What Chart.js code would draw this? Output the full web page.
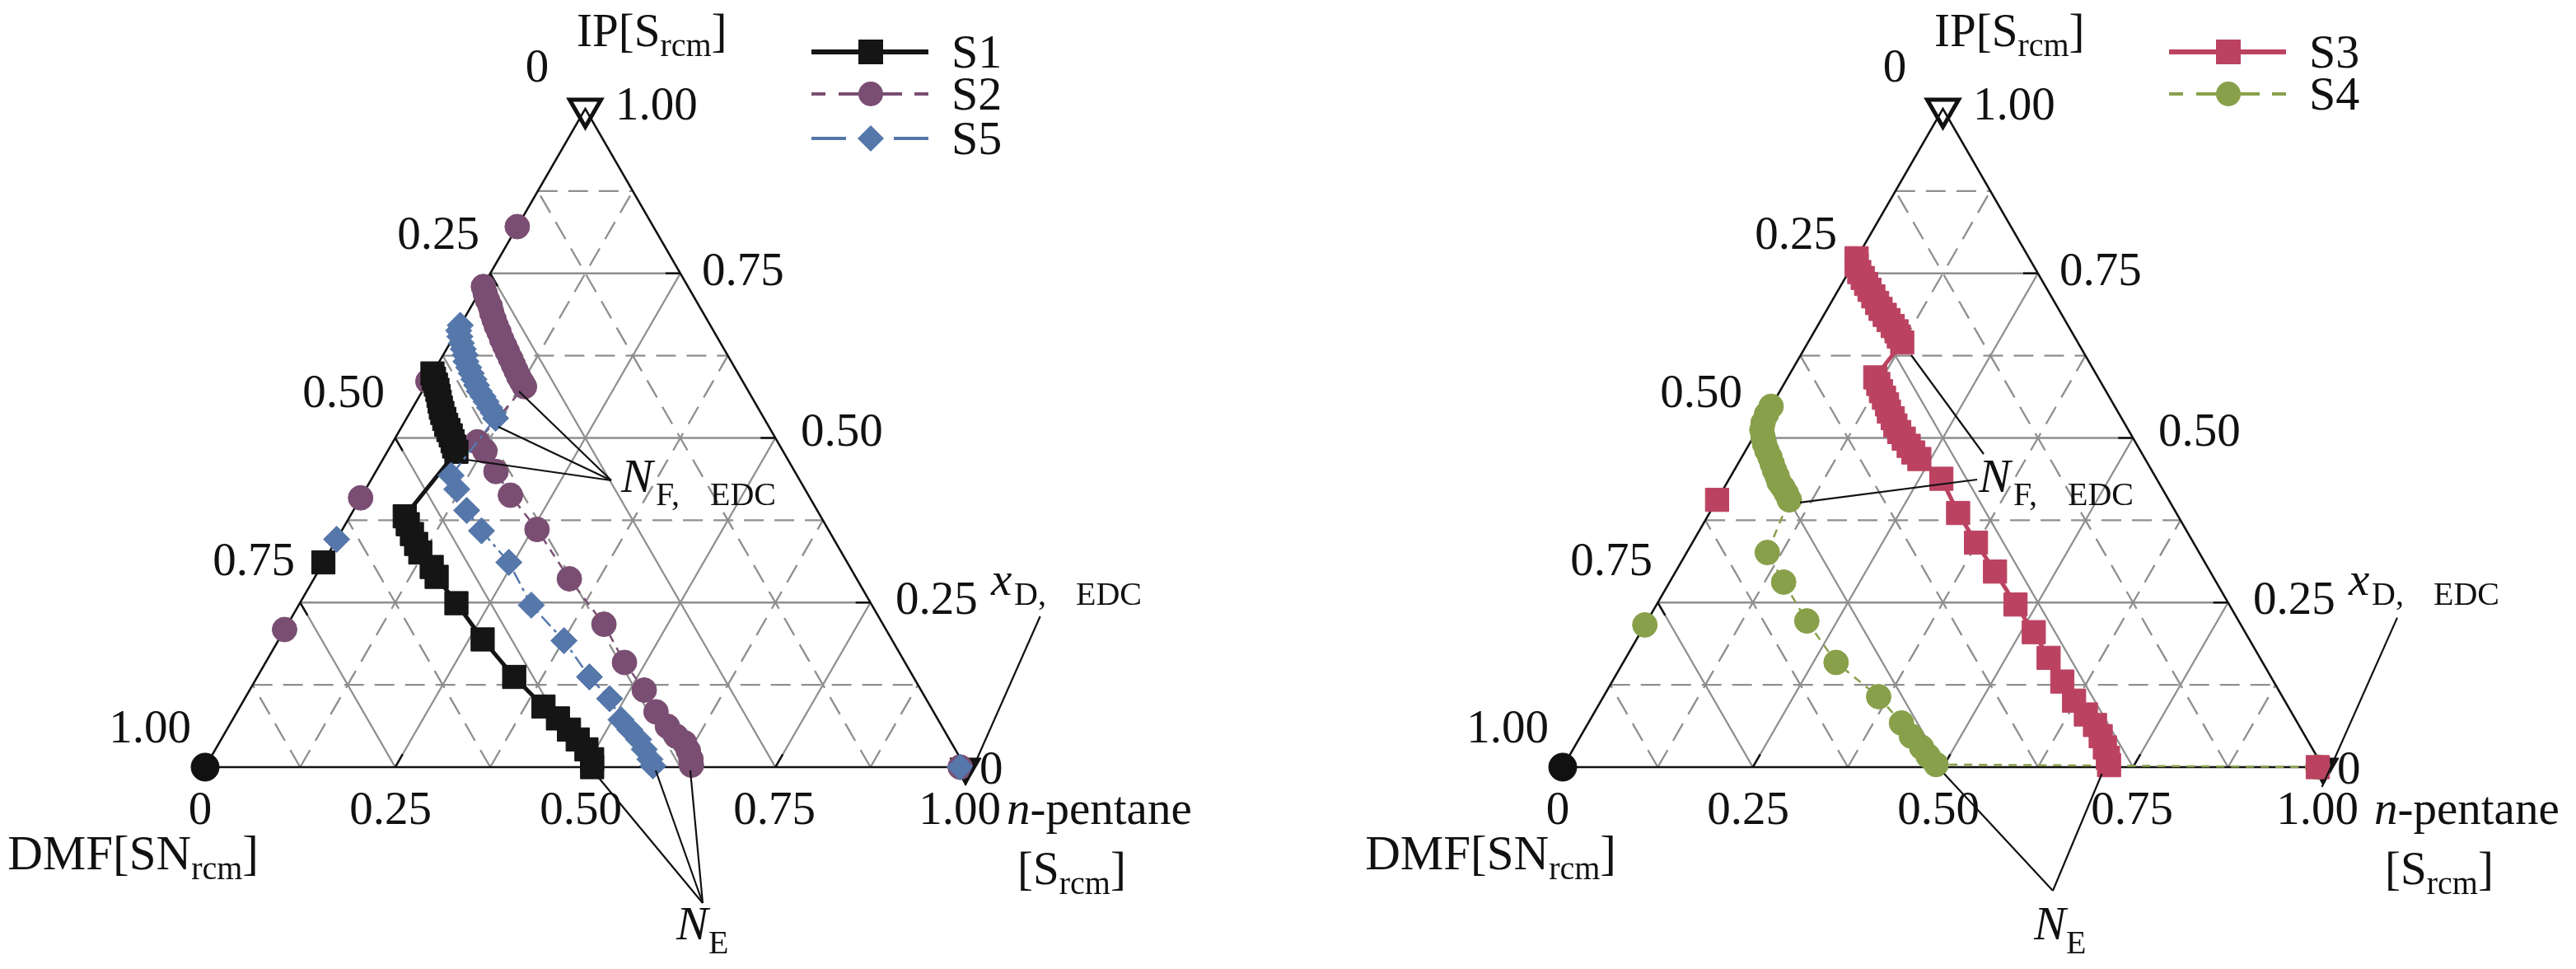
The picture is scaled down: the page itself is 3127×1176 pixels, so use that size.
<!DOCTYPE html>
<html><head><meta charset="utf-8">
<script src="https://cdn.jsdelivr.net/npm/chart.js@4.4.0/dist/chart.umd.min.js"></script>
<style>
html,body{margin:0;padding:0;background:#fff;width:3127px;height:1176px;overflow:hidden;}
#wrap{position:relative;width:3127px;height:1176px;}
canvas{position:absolute;top:0;}
#c1{left:0;} #c2{left:1560px;}
svg{position:absolute;left:0;top:0;}
svg text{font-family:"Liberation Serif","Times New Roman",serif;fill:#111;}
</style></head><body>
<div id="wrap">
<canvas id="c1" width="1560" height="1176"></canvas>
<canvas id="c2" width="1567" height="1176"></canvas>
<svg id="ov" width="3127" height="1176" xmlns="http://www.w3.org/2000/svg"></svg>
</div>
<script>
// ===== DATA (mole fractions: n-pentane, IP; DMF = 1 - pentane - IP) =====
const tickLabels = ['0', '0.25', '0.50', '0.75', '1.00'];
const seriesNamesLeft = ['S1', 'S2', 'S5'];
const seriesNamesRight = ['S3', 'S4'];

// S1 (left)
const s1Pentane = [0.000,0.006,0.013,0.019,0.025,0.031,0.037,0.043,0.050,0.057,0.064,0.071,0.078,0.084,0.091,
  0.072,0.082,0.095,0.108,0.120,0.146,0.160,0.206,0.268,0.338,0.399,0.427,0.450,0.469,0.488,0.503,0.509];
const s1IP = [0.598,0.590,0.581,0.573,0.564,0.555,0.546,0.538,0.529,0.520,0.512,0.504,0.495,0.487,0.479,
  0.381,0.369,0.354,0.339,0.326,0.304,0.289,0.249,0.194,0.137,0.092,0.074,0.057,0.042,0.027,0.012,0.000];
const s1PointPentane = [0.000];
const s1PointIP = [0.311];

// S2 (left)
const s2Pentane = [0.001,0.009,0.017,0.025,0.032,0.040,0.048,0.056,0.065,0.074,0.082,0.091,0.100,0.108,0.116,0.124,0.131,
  0.111,0.128,0.158,0.195,0.256,0.336,0.416,0.472,0.519,0.551,0.577,0.596,0.612,0.623,0.633,0.638];
const s2IP = [0.730,0.719,0.709,0.700,0.690,0.680,0.670,0.661,0.650,0.640,0.631,0.621,0.611,0.602,0.593,0.585,0.578,
  0.494,0.480,0.449,0.413,0.361,0.286,0.217,0.159,0.117,0.084,0.062,0.047,0.037,0.025,0.012,0.003];
const s2PointPentane = [0.000,0.000,0.000,0.000,0.993];
const s2PointIP = [0.821,0.586,0.409,0.209,0.000];

// S5 (left)
const s5Pentane = [0.000,0.002,0.008,0.015,0.022,0.029,0.035,0.043,0.051,0.059,0.067,0.075,0.084,0.092,0.101,0.110,0.117,
  0.102,0.120,0.149,0.184,0.244,0.306,0.376,0.437,0.480,0.511,0.530,0.549,0.564,0.579,0.588];
const s5IP = [0.671,0.663,0.654,0.644,0.635,0.626,0.616,0.607,0.598,0.589,0.580,0.571,0.563,0.555,0.546,0.538,0.530,
  0.443,0.422,0.390,0.359,0.311,0.246,0.192,0.137,0.104,0.072,0.057,0.042,0.027,0.012,0.002];
const s5PointPentane = [0.000,0.993];
const s5PointIP = [0.346,0.000];

// S3 (right)
const s3Pentane = [0.000,0.005,0.014,0.023,0.032,0.041,0.051,0.061,0.070,0.080,0.089,0.099,0.108,0.115,0.124,
  0.115,0.124,0.133,0.142,0.151,0.159,0.169,0.178,0.188,0.199,0.211,0.222,0.235,
  0.279,0.327,0.373,0.420,0.472,0.517,0.556,0.592,0.622,0.648,0.668,0.684,0.698,0.710,0.717];
const s3IP = [0.773,0.763,0.752,0.743,0.734,0.725,0.715,0.705,0.696,0.687,0.679,0.670,0.662,0.654,0.645,
  0.592,0.582,0.571,0.561,0.551,0.540,0.530,0.519,0.509,0.499,0.488,0.478,0.468,
  0.438,0.386,0.341,0.297,0.247,0.205,0.166,0.130,0.101,0.080,0.064,0.047,0.030,0.014,0.003];
const s3PointPentane = [0.000,0.993];
const s3PointIP = [0.406,0.000];

// S4 (right)
const s4Pentane = [0.000,0.000,0.002,0.006,0.013,0.020,0.028,0.037,0.045,0.053,0.061,0.068,0.077,0.086,0.095,
  0.106,0.150,0.210,0.280,0.362,0.412,0.435,0.457,0.472,0.489,0.993];
const s4IP = [0.548,0.536,0.523,0.512,0.501,0.491,0.481,0.471,0.461,0.451,0.442,0.433,0.425,0.416,0.406,
  0.326,0.281,0.222,0.159,0.107,0.067,0.047,0.030,0.017,0.004,0.000];
const s4PointPentane = [0.000];
const s4PointIP = [0.216];

// pure-component vertices: DMF, IP, n-pentane
const vertexPentane = [0, 0, 1];
const vertexIP = [0, 1, 0];

// ===== helpers =====
const toXY = (pent, ip) => pent.map((p, k) => ({x: p + ip[k] / 2, y: ip[k]}));
const gridSteps = [0.125, 0.25, 0.375, 0.5, 0.625, 0.75, 0.875];

const COLORS = {S1:'#151515', S2:'#7a4e72', S5:'#5577aa', S3:'#bb4361', S4:'#88a04a'};

const ternaryPlugin = {
  id: 'ternary',
  beforeDatasetsDraw(chart) {
    const {ctx, scales:{x, y}} = chart;
    const P = (p, i) => [x.getPixelForValue(p + i / 2), y.getPixelForValue(i)];
    const seg = (a, b) => { ctx.beginPath(); ctx.moveTo(a[0], a[1]); ctx.lineTo(b[0], b[1]); ctx.stroke(); };
    ctx.save();
    ctx.strokeStyle = '#8e8e8e';
    ctx.lineWidth = 2.3;
    for (const t of gridSteps) {
      const solid = Math.abs((t / 0.25) - Math.round(t / 0.25)) < 1e-6;
      ctx.setLineDash(solid ? [] : [24, 13]);
      seg(P(0, t), P(1 - t, t));       // constant IP
      seg(P(t, 0), P(t, 1 - t));       // constant pentane
      seg(P(1 - t, 0), P(0, 1 - t));   // constant DMF
    }
    ctx.setLineDash([]);
    // edge ticks
    ctx.strokeStyle = '#111';
    ctx.lineWidth = 2.5;
    const L = 18;
    for (const t of [0.25, 0.5, 0.75]) {
      const r = P(1 - t, t); seg(r, [r[0] - L, r[1]]);
      const l = P(0, t); seg(l, [l[0] + L * 0.5, l[1] + L * 0.866]);
      const b = P(t, 0); seg(b, [b[0] + L * 0.5, b[1] - L * 0.866]);
    }
    // frame
    ctx.lineWidth = 2.5;
    ctx.beginPath();
    const A = P(0, 0), B = P(1, 0), C = P(0, 1);
    ctx.moveTo(A[0], A[1]); ctx.lineTo(B[0], B[1]); ctx.lineTo(C[0], C[1]); ctx.closePath();
    ctx.stroke();
    ctx.restore();
  },
  afterDatasetsDraw(chart, args, opts) {
    const {ctx, scales:{x, y}} = chart;
    ctx.save();
    ctx.strokeStyle = '#111';
    ctx.lineWidth = 2.2;
    for (const grp of (opts.leaders || [])) {
      const o = grp[0];
      for (let k = 1; k < grp.length; k++) {
        ctx.beginPath();
        ctx.moveTo(x.getPixelForValue(o[0]), y.getPixelForValue(o[1]));
        ctx.lineTo(x.getPixelForValue(grp[k][0]), y.getPixelForValue(grp[k][1]));
        ctx.stroke();
      }
    }
    ctx.restore();
  }
};

function lineDS(label, pent, ip, color, style, radius, width, dash, order) {
  return {label, data: toXY(pent, ip), showLine: true, borderColor: color, backgroundColor: color,
    borderWidth: width, borderDash: dash, pointStyle: style, pointRadius: radius,
    pointBackgroundColor: color, pointBorderColor: color, pointBorderWidth: 1, clip: false, order};
}
function pointDS(label, pent, ip, color, style, radius, order) {
  return {label, data: toXY(pent, ip), showLine: false, pointStyle: style, pointRadius: radius,
    pointBackgroundColor: color, pointBorderColor: color, pointBorderWidth: 1, clip: false, order};
}
function vertexDS() {
  return {label: 'vertices', data: toXY(vertexPentane, vertexIP), showLine: false,
    pointStyle: ['circle', 'triangle', 'triangle'], pointRadius: [17, 22, 22],
    rotation: [0, 180, 180],
    pointBackgroundColor: ['#111', 'rgba(0,0,0,0)', '#111'], pointBorderColor: '#111',
    pointBorderWidth: [1, 5, 1], clip: false, order: 10};
}
function makeChart(id, datasets, padding, leaders) {
  return new Chart(document.getElementById(id), {
    type: 'scatter',
    data: {datasets},
    options: {
      responsive: false, animation: false, devicePixelRatio: 1, events: [],
      layout: {padding},
      scales: {x: {type: 'linear', min: 0, max: 1, display: false}, y: {type: 'linear', min: 0, max: 1, display: false}},
      plugins: {legend: {display: false}, tooltip: {enabled: false}, ternary: {leaders}}
    },
    plugins: [ternaryPlugin]
  });
}

makeChart('c1', [
  lineDS('S5', s5Pentane, s5IP, COLORS.S5, 'rectRot', 16, 2.5, [16, 6, 4, 6], 0),
  pointDS('S5 pts', s5PointPentane, s5PointIP, COLORS.S5, 'rectRot', 16, 0),
  lineDS('S1', s1Pentane, s1IP, COLORS.S1, 'rect', 20, 5, [], 1),
  pointDS('S1 pts', s1PointPentane, s1PointIP, COLORS.S1, 'rect', 20, 1),
  lineDS('S2', s2Pentane, s2IP, COLORS.S2, 'circle', 15, 2.5, [10, 8], 2),
  pointDS('S2 pts', s2PointPentane, s2PointIP, COLORS.S2, 'circle', 15, 2),
  vertexDS()
], {left: 249, right: 388, top: 132, bottom: 245}, [
  [[0.5341, 0.4355], [0.4128, 0.5707], [0.3857, 0.5169], [0.3445, 0.4668]],
  [[0.6544, -0.2065], [0.5168, -0.015], [0.5926, -0.005], [0.6381, -0.005]],
  [[1.0982, 0.2291], [0.9996, -0.0278]]
]);

makeChart('c2', [
  lineDS('S3', s3Pentane, s3IP, COLORS.S3, 'rect', 20, 5, [], 0),
  pointDS('S3 pts', s3PointPentane, s3PointIP, COLORS.S3, 'rect', 20, 0),
  lineDS('S4', s4Pentane, s4IP, COLORS.S4, 'circle', 15, 2.5, [10, 8], 1),
  pointDS('S4 pts', s4PointPentane, s4PointIP, COLORS.S4, 'circle', 15, 1),
  vertexDS()
], {left: 337, right: 307, top: 132, bottom: 245}, [
  [[0.5536, 0.4756], [0.4583, 0.6258]],
  [[0.5450, 0.4368], [0.3120, 0.4018]],
  [[0.6446, -0.1877], [0.5016, -0.0100], [0.7091, -0.0100]],
  [[1.0975, 0.2270], [0.9985, -0.030]]
]);

// ===== text & legend overlay (SVG, real text) =====
const NS = 'http://www.w3.org/2000/svg';
const svg = document.getElementById('ov');
function el(name, attrs, parent) {
  const e = document.createElementNS(NS, name);
  for (const k in attrs) e.setAttribute(k, attrs[k]);
  (parent || svg).appendChild(e);
  return e;
}
function txt(x, y, parts, opt) {
  opt = opt || {};
  const t = el('text', {x, y, 'text-anchor': opt.anchor || 'start', 'font-size': opt.size || 57});
  if (opt.italic) t.setAttribute('font-style', 'italic');
  for (const part of parts) {
    if (typeof part === 'string') { t.appendChild(document.createTextNode(part)); continue; }
    const a = {};
    if (part.size) a['font-size'] = part.size;
    if (part.dy) a.dy = part.dy;
    if (part.dx) a.dx = part.dx;
    if (part.italic) a['font-style'] = 'italic';
    const ts = el('tspan', a, t);
    ts.textContent = part.t;
  }
  return t;
}
const sub = (s) => ({t: s, size: 40, dy: 12});
const unsub = (s) => ({t: s, dy: -12});

function drawLabels(dx, npX) {
  txt(700 + dx, 56, ['IP[S', sub('rcm'), unsub(']')]);
  txt(652 + dx, 99, [tickLabels[0]], {anchor: 'middle'});
  txt(747 + dx, 145, [tickLabels[4]]);
  // DMF axis (left edge)
  [[1, 582, 302], [2, 467, 494], [3, 358, 698], [4, 232, 901]].forEach(([k, x, y]) =>
    txt(x + dx, y, [tickLabels[k]], {anchor: 'end'}));
  // IP axis (right edge)
  [[3, 852, 346], [2, 972, 541], [1, 1087, 745], [0, 1189, 951]].forEach(([k, x, y]) =>
    txt(x + dx, y, [tickLabels[k]]));
  // n-pentane axis (bottom)
  [243, 474, 705, 940, 1165].forEach((x, k) => txt(x + dx, 1000, [tickLabels[k]], {anchor: 'middle'}));
  txt(npX, 1000, [{t: 'n', italic: true}, '-pentane']);
  txt(npX + 13, 1073, ['[S', sub('rcm'), unsub(']')]);
  txt(314 + dx, 1055, ['DMF[SN', sub('rcm'), unsub(']')], {anchor: 'end', size: 59});
  txt(1203 + dx, 722, ['x'], {italic: true});
  txt(1231 + dx, 734, ['D,'], {size: 40});
  txt(1306 + dx, 734, ['EDC'], {size: 40});
  txt(754 + dx, 597, ['N'], {italic: true, size: 58});
  txt(796 + dx, 613, ['F,'], {size: 40});
  txt(862 + dx, 613, ['EDC'], {size: 40});
  txt(821 + dx, 1140, ['N'], {italic: true, size: 58});
  txt(860 + dx, 1157, ['E'], {size: 40});
}
drawLabels(0, 1222);
drawLabels(1648, 2882);

function legendRow(x0, y, name, color, kind) {
  const x1 = x0 + 142, cx = x0 + 72;
  if (kind === 'rect') {
    el('line', {x1: x0, y1: y, x2: x1, y2: y, stroke: color, 'stroke-width': 6});
    el('rect', {x: cx - 15, y: y - 15, width: 30, height: 30, fill: color});
  } else if (kind === 'circle') {
    el('line', {x1: x0, y1: y, x2: x1, y2: y, stroke: color, 'stroke-width': 4, 'stroke-dasharray': '17 16 77 15 17 100'});
    el('circle', {cx, cy: y, r: 15, fill: color});
  } else {
    el('line', {x1: x0, y1: y, x2: x1, y2: y, stroke: color, 'stroke-width': 4, 'stroke-dasharray': '42 58 42 100'});
    el('path', {d: `M${cx - 16} ${y} L${cx} ${y - 16} L${cx + 16} ${y} L${cx} ${y + 16} Z`, fill: color});
  }
  txt(x0 + 170, y + 19, [name], {size: 58});
}
legendRow(985, 63, seriesNamesLeft[0], COLORS.S1, 'rect');
legendRow(985, 114, seriesNamesLeft[1], COLORS.S2, 'circle');
legendRow(985, 168, seriesNamesLeft[2], COLORS.S5, 'diamond');
legendRow(2633, 63, seriesNamesRight[0], COLORS.S3, 'rect');
legendRow(2633, 114, seriesNamesRight[1], COLORS.S4, 'circle');
</script>
</body></html>
